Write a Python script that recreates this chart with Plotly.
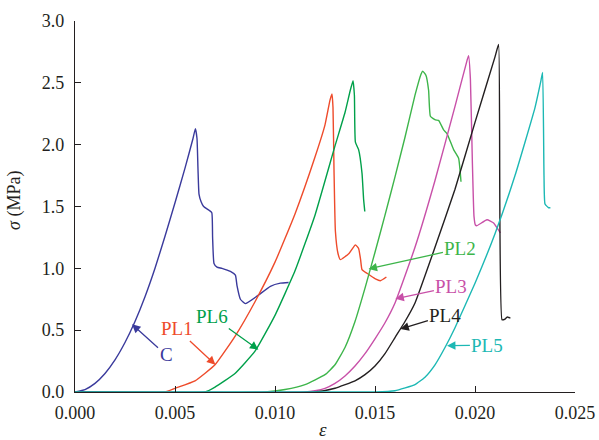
import plotly.graph_objects as go

# ---- data (strain, stress in MPa) ----
c_x = [0, 0.0005, 0.001, 0.0015, 0.002, 0.0025, 0.003, 0.0035, 0.004, 0.0045, 0.005, 0.0055, 0.0059, 0.00602,
       0.0061, 0.00615, 0.0062, 0.0063, 0.00643, 0.0067, 0.00684, 0.00688, 0.00695, 0.0071, 0.00735, 0.00777,
       0.00802, 0.0081, 0.00827, 0.00852, 0.0091, 0.00977, 0.01027, 0.01068]
c_y = [0, 0.02, 0.07, 0.15, 0.26, 0.40, 0.57, 0.77, 1.00, 1.26, 1.53, 1.81, 2.05, 2.13,
       2.05, 1.80, 1.60, 1.54, 1.50, 1.47, 1.45, 1.25, 1.04, 1.01, 1.00, 0.975,
       0.945, 0.86, 0.75, 0.715, 0.775, 0.855, 0.88, 0.886]

pl1_x = [0, 0.0045, 0.005, 0.006, 0.007, 0.008, 0.009, 0.010, 0.011, 0.012, 0.0125, 0.01275, 0.01285,
         0.0129, 0.01295, 0.01302, 0.01315, 0.01327, 0.0137, 0.01402, 0.01418, 0.01428, 0.01435, 0.0146,
         0.01502, 0.01527, 0.01557]
pl1_y = [0, 0.0, 0.03, 0.09, 0.22, 0.45, 0.73, 1.05, 1.44, 1.90, 2.16, 2.36, 2.41,
         2.30, 1.80, 1.30, 1.12, 1.07, 1.12, 1.19, 1.16, 1.07, 0.99, 0.96,
         0.915, 0.90, 0.93]

pl6_x = [0, 0.0065, 0.007, 0.008, 0.009, 0.010, 0.011, 0.012, 0.013, 0.0135, 0.01375, 0.0139, 0.01397,
         0.01402, 0.01418, 0.01435, 0.01443, 0.01449]
pl6_y = [0, 0.0, 0.04, 0.15, 0.33, 0.62, 0.98, 1.43, 1.99, 2.26, 2.43, 2.517, 2.40,
         2.02, 1.96, 1.77, 1.56, 1.46]

pl2_x = [0, 0.0095, 0.0105, 0.0115, 0.0125, 0.013, 0.0135, 0.014, 0.0145, 0.015, 0.0155, 0.016, 0.0165,
         0.017, 0.0173, 0.01738, 0.01755, 0.01768, 0.01777, 0.01802, 0.01818, 0.01843, 0.0186, 0.01893,
         0.01918, 0.0193]
pl2_y = [0, 0.0, 0.02, 0.06, 0.14, 0.22, 0.36, 0.57, 0.84, 1.13, 1.43, 1.74, 2.06,
         2.40, 2.57, 2.595, 2.56, 2.44, 2.23, 2.20, 2.196, 2.12, 2.09, 1.96,
         1.89, 1.70]

pl3_x = [0, 0.0115, 0.012, 0.0125, 0.013, 0.0135, 0.014, 0.0145, 0.015, 0.0155, 0.016, 0.017, 0.018,
         0.019, 0.0196, 0.01968, 0.01977, 0.01987, 0.01995, 0.02002, 0.0201, 0.0206, 0.02093, 0.02127]
pl3_y = [0, 0.0, 0.01, 0.03, 0.07, 0.13, 0.21, 0.31, 0.43, 0.56, 0.72, 1.17, 1.71,
         2.31, 2.68, 2.72, 2.53, 1.85, 1.42, 1.35, 1.345, 1.393, 1.367, 1.286]

pl4_x = [0, 0.012, 0.013, 0.014, 0.0145, 0.015, 0.0155, 0.016, 0.0165, 0.017, 0.018, 0.019, 0.020, 0.021,
         0.02118, 0.02135, 0.0215, 0.0216, 0.02177]
pl4_y = [0, 0.0, 0.03, 0.09, 0.14, 0.21, 0.31, 0.44, 0.57, 0.72, 1.17, 1.64, 2.18, 2.71,
         2.81, 0.585, 0.59, 0.606, 0.598]

pl5_x = [0, 0.015, 0.016, 0.017, 0.0175, 0.018, 0.0185, 0.019, 0.020, 0.021, 0.022, 0.023, 0.0233, 0.02338,
         0.02345, 0.0235, 0.02368, 0.02377]
pl5_y = [0, 0.0, 0.01, 0.06, 0.12, 0.22, 0.36, 0.52, 0.88, 1.28, 1.75, 2.30, 2.52, 2.584,
         1.75, 1.52, 1.49, 1.49]

names = ["C", "PL1", "PL6", "PL2", "PL3", "PL4", "PL5"]
colors = ["#3a3a9c", "#ee4b2b", "#00a04a", "#3db54a", "#c850a8", "#231f20", "#1cb8b4"]
series_x = [c_x, pl1_x, pl6_x, pl2_x, pl3_x, pl4_x, pl5_x]
series_y = [c_y, pl1_y, pl6_y, pl2_y, pl3_y, pl4_y, pl5_y]

# label text positions and arrow tip positions (data coords)
label_pos = [(0.00455, 0.30), (0.0051, 0.51), (0.00685, 0.61), (0.01927, 1.16),
             (0.01882, 0.85), (0.01852, 0.62), (0.02062, 0.38)]
arrow_tip = [(0.00285, 0.547), (0.00702, 0.221), (0.00917, 0.342), (0.01468, 0.995),
             (0.01602, 0.754), (0.01627, 0.509), (0.0186, 0.374)]

x_ticks = [0.000, 0.005, 0.010, 0.015, 0.020, 0.025]
y_ticks = [0.0, 0.5, 1.0, 1.5, 2.0, 2.5, 3.0]

FONT = "Times New Roman, Liberation Serif, serif"

fig = go.Figure()
for n, col, xs, ys in zip(names, colors, series_x, series_y):
    fig.add_trace(go.Scatter(x=xs, y=ys, mode="lines", name=n,
                             line=dict(color=col, width=1.4, shape="spline", smoothing=0.4)))

annotations = []
for n, col, (tx, ty), (hx, hy) in zip(names, colors, label_pos, arrow_tip):
    annotations.append(dict(x=hx, y=hy, ax=tx, ay=ty, xref="x", yref="y", axref="x", ayref="y",
                            text=n, showarrow=True, arrowhead=2, arrowsize=1.3, arrowwidth=1.3,
                            arrowcolor=col, standoff=0, startstandoff=0,
                            font=dict(family=FONT, size=19, color=col)))
# axis titles
annotations.append(dict(text="<i>σ</i> (MPa)", xref="paper", yref="paper", x=-0.12, y=0.515,
                        textangle=-90, showarrow=False, xanchor="center", yanchor="middle",
                        font=dict(family=FONT, size=18, color="#231f20")))
annotations.append(dict(text="<i>ε</i>", xref="paper", yref="paper", x=0.496, y=-0.10,
                        showarrow=False, xanchor="center", yanchor="middle",
                        font=dict(family=FONT, size=19, color="#231f20")))

fig.update_layout(
    width=599, height=440,
    margin=dict(l=75, r=24, t=21, b=48),
    paper_bgcolor="white", plot_bgcolor="white",
    showlegend=False,
    font=dict(family=FONT, size=18, color="#231f20"),
    annotations=annotations,
    xaxis=dict(range=[0, 0.025], tickvals=x_ticks, tickformat=".3f", ticks="inside", ticklen=6,
               tickcolor="#231f20", showline=True, linecolor="#231f20", linewidth=1.2,
               showgrid=False, zeroline=False, ticklabelstandoff=4, automargin=False),
    yaxis=dict(range=[0, 3.0], tickvals=y_ticks, tickformat=".1f", ticks="inside", ticklen=6,
               tickcolor="#231f20", showline=True, linecolor="#231f20", linewidth=1.2,
               showgrid=False, zeroline=False, ticklabelstandoff=6, automargin=False),
)

fig.write_html("out.html", config={"displayModeBar": False},
               post_script="document.body.style.margin='0';document.body.style.padding='0';"
                           "document.body.style.overflow='hidden';")
